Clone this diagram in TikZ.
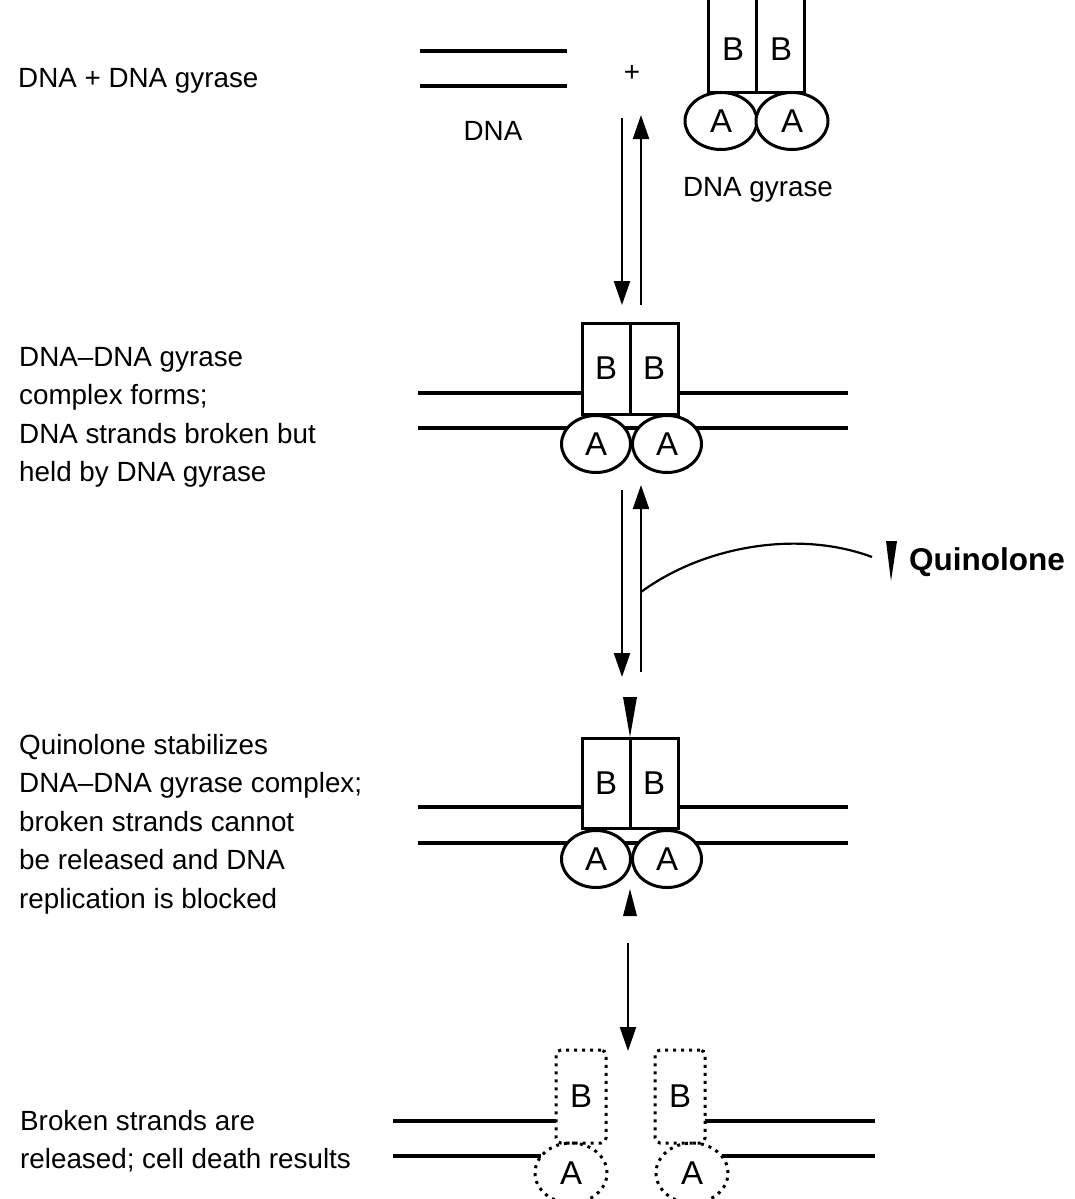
\documentclass[tikz,border=0pt]{standalone}
\usepackage{fontspec}
\setmainfont{Liberation Sans}
\usetikzlibrary{shapes.geometric,arrows.meta}
\begin{document}
\begin{tikzpicture}[x=1pt,y=-1pt,
  txt/.style={font=\fontsize{27.8}{38.5}\selectfont, inner sep=0pt},
  lbl/.style={font=\fontsize{33}{36}\selectfont},
  desc/.style={txt, align=left, anchor=north west},
  strand/.style={line width=3.5pt},
  bbox/.style={draw, line width=3pt, fill=white, rectangle, inner sep=0pt, minimum width=48pt, lbl},
  abox/.style={draw, ellipse, line width=3pt, fill=white, inner sep=0pt, minimum width=69pt, minimum height=57pt, lbl},
  dotted box/.style={draw, line width=3pt, dash pattern=on 3pt off 5pt, rectangle, rounded corners=5pt, inner sep=0pt, minimum width=50pt, minimum height=93pt, lbl},
  dotted ell/.style={draw, line width=3pt, dash pattern=on 3pt off 5pt, ellipse, inner sep=0pt, minimum width=72pt, minimum height=60pt, lbl},
  arr/.style={line width=2.2pt, -{Triangle[length=24pt,width=16pt]}},
  wedge/.style={fill=black}
]
\useasboundingbox (0,0) rectangle (1074,1199);
\clip (0,0) rectangle (1074,1199);

% ---------- Stage 1 ----------
\node[desc] (t1) at (18,68) {DNA + DNA gyrase};
\draw[strand] (420,51) -- (567,51);
\draw[strand] (420,86) -- (567,86);
\node[txt] (dna) at (493,131) {DNA};
\node[txt] (plus) at (632,73) {+};
\node[bbox, minimum height=110pt] (g1bl) at (732,37) {};
\node[bbox, minimum height=110pt] (g1br) at (780,37) {};
\node[lbl, inner sep=0pt] (g1Bl) at (733,49) {B};
\node[lbl, inner sep=0pt] (g1Br) at (781,49) {B};
\node[abox, minimum width=72pt] (g1al) at (721,121) {A};
\node[abox, minimum width=72pt] (g1ar) at (792,121) {A};
\node[txt] (gyr) at (758,190) {DNA gyrase};

\coordinate (a1s) at (622,118);
\coordinate (a1e) at (622,305);
\coordinate (b1s) at (641,305);
\coordinate (b1e) at (641,115);
\draw[arr] (a1s) -- (a1e);
\draw[arr] (b1s) -- (b1e);

% ---------- Stage 2 ----------
\node[desc] (t2) at (19,347) {DNA–DNA gyrase\\complex forms;\\DNA strands broken but\\held by DNA gyrase};
\draw[strand] (418,393) -- (848,393);
\draw[strand] (418,428) -- (848,428);
\node[bbox, minimum height=91pt] (g2bl) at (606,368.5) {B};
\node[bbox, minimum height=91pt] (g2br) at (654,368.5) {B};
\node[abox] (g2al) at (596,444) {A};
\node[abox] (g2ar) at (667,444) {A};

\coordinate (a2s) at (622,490);
\coordinate (a2e) at (622,677);
\coordinate (b2s) at (641,672);
\coordinate (b2e) at (641,485);
\draw[arr] (a2s) -- (a2e);
\draw[arr] (b2s) -- (b2e);

\coordinate (qc) at (641,592);
\coordinate (qe) at (872,557);
\draw[line width=2.2pt] (qc) .. controls (705,545) and (800,530) .. (qe);
\fill[wedge] (886,541) -- (897,541) -- (891,581) -- cycle;
\node[font=\fontsize{31.5}{36}\selectfont\bfseries, inner sep=0pt, anchor=west] (quin) at (909,562) {Quinolone};

% ---------- Stage 3 ----------
\node[desc] (t3) at (19,734) {Quinolone stabilizes\\DNA–DNA gyrase complex;\\broken strands cannot\\be released and DNA\\replication is blocked};
\draw[strand] (418,807) -- (848,807);
\draw[strand] (418,843) -- (848,843);
\node[bbox, minimum height=90pt] (g3bl) at (606,783) {B};
\node[bbox, minimum height=90pt] (g3br) at (654,783) {B};
\node[abox] (g3al) at (596,859) {A};
\node[abox] (g3ar) at (667,859) {A};
\fill[wedge] (623,697) -- (637,697) -- (630,737) -- cycle;
\fill[wedge] (623,916) -- (637,916) -- (630,889) -- cycle;

\coordinate (a3s) at (628,943);
\coordinate (a3e) at (628,1051);
\draw[arr] (a3s) -- (a3e);

% ---------- Stage 4 ----------
\node[desc] (t4) at (20,1110) {Broken strands are\\released; cell death results};
\draw[strand] (393,1121) -- (556,1121);
\draw[strand] (393,1156) -- (541,1156);
\draw[strand] (705,1121) -- (875,1121);
\draw[strand] (722,1156) -- (875,1156);
\node[dotted box] (g4bl) at (581,1096.5) {B};
\node[dotted box] (g4br) at (680,1096.5) {B};
\node[dotted ell] (g4al) at (571,1173) {A};
\node[dotted ell] (g4ar) at (692,1173) {A};
\end{tikzpicture}
\end{document}
